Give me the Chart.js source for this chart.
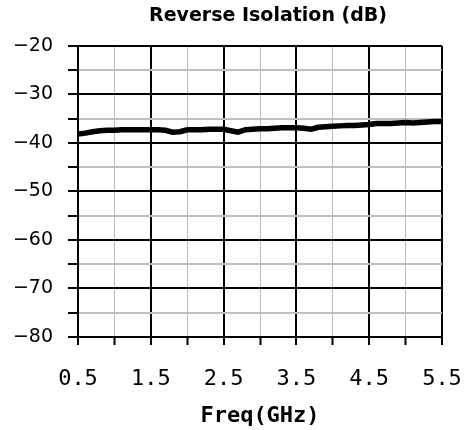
<!DOCTYPE html>
<html>
<head>
<meta charset="utf-8">
<script src="https://cdn.jsdelivr.net/npm/chart.js@4/dist/chart.umd.min.js"></script>
<style>
  html, body { margin: 0; padding: 0; background: #fff; }
  #wrap { width: 465px; height: 430px; }
</style>
</head>
<body>
<div id="wrap"><canvas id="c" width="465" height="430"></canvas></div>
<script>
const chartTitle = "Reverse Isolation (dB)";
const xAxisTitle = "Freq(GHz)";
const freqGHz = [0.5,0.6,0.7,0.8,0.9,1.0,1.1,1.2,1.3,1.4,1.5,1.6,1.7,1.8,1.9,2.0,2.1,2.2,2.3,2.4,2.5,2.6,2.7,2.8,2.9,3.0,3.1,3.2,3.3,3.4,3.5,3.6,3.7,3.8,3.9,4.0,4.1,4.2,4.3,4.4,4.5,4.6,4.7,4.8,4.9,5.0,5.1,5.2,5.3,5.4,5.5];
const isolationDb = [-38.2,-38.0,-37.7,-37.5,-37.4,-37.4,-37.3,-37.3,-37.3,-37.3,-37.3,-37.3,-37.4,-37.8,-37.7,-37.3,-37.3,-37.3,-37.2,-37.2,-37.2,-37.5,-37.8,-37.3,-37.2,-37.1,-37.1,-37.0,-36.9,-36.9,-36.9,-37.0,-37.2,-36.8,-36.7,-36.6,-36.5,-36.4,-36.4,-36.3,-36.2,-36.0,-36.0,-36.0,-35.9,-35.8,-35.9,-35.8,-35.7,-35.6,-35.6];
const xTickLabels = ["0.5","1.5","2.5","3.5","4.5","5.5"];
const yTickLabels = ["\u221220","\u221230","\u221240","\u221250","\u221260","\u221270","\u221280"];

const points = freqGHz.map((f, i) => ({ x: f, y: isolationDb[i] }));

function xIsMajor(v) { return Math.abs((v - 0.5) - Math.round(v - 0.5)) < 1e-6; }
function yIsMajor(v) { return Math.abs(v / 10 - Math.round(v / 10)) < 1e-6; }

const shiftTitle = {
  id: 'shiftTitle',
  beforeDraw(chart) {
    const tb = chart.titleBlock;
    if (tb && chart.chartArea) {
      tb.left = chart.chartArea.left + 8;
      tb.right = chart.chartArea.right + 8;
    }
  }
};

new Chart(document.getElementById('c'), {
  type: 'line',
  data: {
    datasets: [{
      data: points,
      borderColor: '#000',
      borderWidth: 5.5,
      pointRadius: 0,
      tension: 0,
      fill: false
    }]
  },
  plugins: [shiftTitle],
  options: {
    responsive: false,
    animation: false,
    layout: { padding: { left: 0, right: 23, top: 0, bottom: 0 } },
    plugins: {
      legend: { display: false },
      tooltip: { enabled: false },
      title: {
        display: true,
        text: chartTitle,
        fullSize: false,
        color: '#000',
        font: { family: 'DejaVu Sans', size: 19, weight: 'bold' },
        padding: { top: 5, bottom: 18 }
      }
    },
    scales: {
      x: {
        type: 'linear',
        min: 0.5,
        max: 5.5,
        afterFit(scale) {
          scale.height = 93;
          scale.paddingLeft = 0;
          scale.paddingRight = 0;
        },
        afterBuildTicks(scale) {
          const t = [];
          for (let i = 0; i <= 10; i++) t.push({ value: 0.5 + i * 0.5 });
          scale.ticks = t;
        },
        ticks: {
          autoSkip: false,
          maxRotation: 0,
          padding: 21,
          color: '#000',
          font: { family: 'DejaVu Sans Mono', size: 22 },
          callback(v) {
            if (!xIsMajor(v)) return '';
            const idx = Math.round(v - 0.5);
            return xTickLabels[idx];
          }
        },
        grid: {
          drawOnChartArea: true,
          tickLength: 8,
          color: ctx => xIsMajor(ctx.tick.value) ? '#000' : '#b8b8b8',
          lineWidth: ctx => xIsMajor(ctx.tick.value) ? 2 : 1,
          borderDash: ctx => xIsMajor(ctx.tick.value) ? [] : [1, 1],
          tickColor: '#000',
          tickWidth: 2,
          tickBorderDash: []
        },
        border: { display: true, color: '#000', width: 2 },
        title: {
          display: true,
          text: xAxisTitle,
          color: '#000',
          font: { family: 'DejaVu Sans Mono', size: 22, weight: 'bold' },
          padding: { top: 0, bottom: 1 }
        }
      },
      y: {
        type: 'linear',
        min: -80,
        max: -20,
        afterFit(scale) { scale.width = 78; },
        afterBuildTicks(scale) {
          const t = [];
          for (let v = -80; v <= -20; v += 5) t.push({ value: v });
          scale.ticks = t;
        },
        ticks: {
          autoSkip: false,
          padding: 15,
          color: '#000',
          font: { family: 'DejaVu Sans', size: 19 },
          callback(v) {
            if (!yIsMajor(v)) return '';
            const idx = Math.round((-20 - v) / 10);
            return yTickLabels[idx];
          }
        },
        grid: {
          tickLength: 10,
          color: ctx => yIsMajor(ctx.tick.value) ? '#000' : '#c0c0c0',
          lineWidth: 2,
          tickColor: '#000',
          tickWidth: 2
        },
        border: { display: true, color: '#000', width: 2 }
      }
    }
  }
});
</script>
</body>
</html>
